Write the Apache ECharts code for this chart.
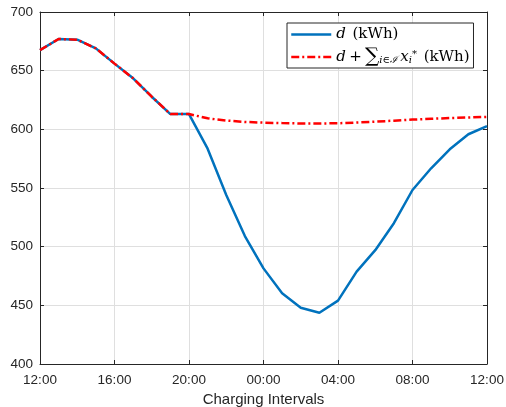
<!DOCTYPE html>
<html>
<head>
<meta charset="utf-8">
<script src="https://cdn.jsdelivr.net/npm/echarts@6/dist/echarts.min.js"></script>
<style>
  html, body { margin: 0; padding: 0; background: #fff; }
  #chart { width: 506px; height: 407px; }
</style>
</head>
<body>
<div id="chart"></div>
<script>
// Hours elapsed since 12:00 (one point per charging interval)
const hourOffsets = [0, 1, 2, 3, 4, 5, 6, 7, 8, 9, 10, 11, 12, 13, 14, 15, 16, 17, 18, 19, 20, 21, 22, 23, 24];

// Tick labels every four hours
const tickLabels = ['12:00', '16:00', '20:00', '00:00', '04:00', '08:00', '12:00'];

// Base demand d (kWh)
const demand = [667.5, 677, 676.4, 669, 656, 643.5, 627.8, 613, 613, 583.5, 544, 509,
  481.5, 460.2, 448, 443.7, 454, 478.7, 497, 520, 548.3, 566.8, 583, 595.8, 602.8];

// Demand plus scheduled charging (kWh)
const demandWithCharging = [667.5, 677, 676.4, 669, 656, 643.5, 627.8, 613, 613, 609.4, 607.5, 606.3,
  605.7, 605.3, 605, 605, 605.2, 605.8, 606.5, 607.4, 608.3, 609, 609.6, 610.1, 610.6];

const axisColor = '#262626';
const gridColor = '#dfdfdf';
const sansFont = '"Liberation Sans", Arial, Helvetica, sans-serif';
const serifFont = '"DejaVu Serif", "Liberation Serif", serif';

const pairs = (ys) => hourOffsets.map((h, i) => [h, ys[i]]);

const chart = echarts.init(document.getElementById('chart'), null, { renderer: 'canvas' });

const legendText = {
  demand: '{m|d}  {t|(kWh)}',
  demandWithCharging: '{m|d} {t|+} {s|∑}{sub|i∈ℐ} {m|x}{sub|i}{sup|*}  {t|(kWh)}'
};

chart.setOption({
  animation: false,
  backgroundColor: '#ffffff',
  grid: { left: 40, right: 19, top: 12, bottom: 43, containLabel: false, outerBoundsMode: 'none' },
  xAxis: [
    {
      type: 'value', min: 0, max: 24, interval: 4,
      name: 'Charging Intervals', nameLocation: 'middle', nameGap: 26,
      nameTextStyle: { color: axisColor, fontFamily: sansFont, fontSize: 15 },
      axisLine: { show: true, lineStyle: { color: axisColor, width: 1 } },
      axisTick: { show: true, inside: true, length: 4, lineStyle: { color: axisColor } },
      axisLabel: {
        color: axisColor, fontFamily: sansFont, fontSize: 13.5, margin: 9,
        formatter: (v) => tickLabels[Math.round(v / 4)]
      },
      splitLine: { show: true, lineStyle: { color: gridColor, width: 1 } }
    },
    {
      type: 'value', position: 'top', min: 0, max: 24, interval: 4,
      axisLine: { show: true, onZero: false, lineStyle: { color: axisColor, width: 1 } },
      axisTick: { show: true, inside: true, length: 4, lineStyle: { color: axisColor } },
      axisLabel: { show: false },
      splitLine: { show: false }
    }
  ],
  yAxis: [
    {
      type: 'value', min: 400, max: 700, interval: 50,
      axisLine: { show: true, lineStyle: { color: axisColor, width: 1 } },
      axisTick: { show: true, inside: true, length: 4, lineStyle: { color: axisColor } },
      axisLabel: { color: axisColor, fontFamily: sansFont, fontSize: 13.5, margin: 7 },
      splitLine: { show: true, lineStyle: { color: gridColor, width: 1 } }
    },
    {
      type: 'value', position: 'right', min: 400, max: 700, interval: 50,
      axisLine: { show: true, onZero: false, lineStyle: { color: axisColor, width: 1 } },
      axisTick: { show: true, inside: true, length: 4, lineStyle: { color: axisColor } },
      axisLabel: { show: false },
      splitLine: { show: false }
    }
  ],
  legend: {
    orient: 'vertical',
    left: 287, top: 23,
    padding: [4, 4, 1, 3],
    itemGap: 5,
    itemWidth: 40, itemHeight: 14,
    backgroundColor: '#ffffff',
    borderColor: axisColor, borderWidth: 1,
    itemStyle: { color: 'rgba(0,0,0,0)', borderWidth: 0, opacity: 0 },
    lineStyle: { width: 2.5 },
    data: ['demand', 'demandWithCharging'],
    formatter: (name) => legendText[name],
    textStyle: {
      color: '#000',
      rich: {
        m: { fontFamily: serifFont, fontStyle: 'italic', fontSize: 15, color: '#000' },
        t: { fontFamily: serifFont, fontSize: 15, color: '#000' },
        s: { fontFamily: serifFont, fontSize: 20, color: '#000' },
        sub: { fontFamily: serifFont, fontStyle: 'italic', fontSize: 10, color: '#000', padding: [6, 0, 0, 0] },
        sup: { fontFamily: serifFont, fontSize: 10, color: '#000', padding: [0, 0, 6, 0] }
      }
    }
  },
  series: [
    {
      name: 'demand', type: 'line', xAxisIndex: 0, yAxisIndex: 0,
      data: pairs(demand),
      symbol: 'none', showSymbol: false,
      lineStyle: { color: '#0072BD', width: 2.5, type: 'solid' },
      itemStyle: { color: '#0072BD' }
    },
    {
      name: 'demandWithCharging', type: 'line', xAxisIndex: 0, yAxisIndex: 0,
      data: pairs(demandWithCharging),
      symbol: 'none', showSymbol: false,
      lineStyle: { color: '#FF0000', width: 2.5, type: [8, 3, 2, 3] },
      itemStyle: { color: '#FF0000' }
    }
  ]
});
</script>
</body>
</html>
